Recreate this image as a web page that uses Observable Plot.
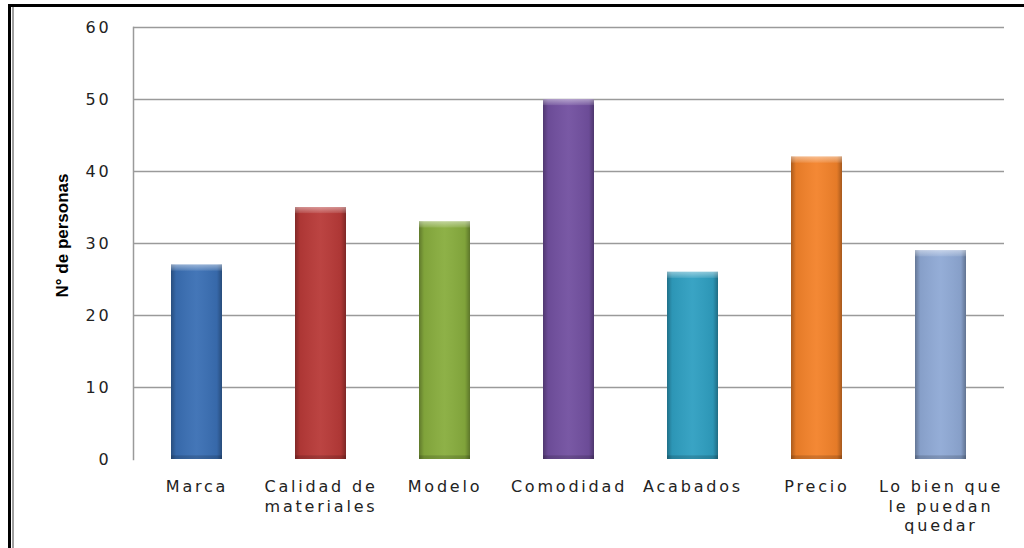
<!DOCTYPE html>
<html>
<head>
<meta charset="utf-8">
<script src="https://cdn.jsdelivr.net/npm/d3@7"></script>
<script src="https://cdn.jsdelivr.net/npm/@observablehq/plot@0.6"></script>
<style>
  html, body { margin: 0; padding: 0; background: #fff; }
  #wrap { position: relative; width: 1024px; height: 548px; overflow: hidden; }
  #frame { position: absolute; left: 8px; top: 4px; width: 1100px; height: 600px;
           border-top: 3px solid #000; border-left: 3px solid #000; box-sizing: border-box; }
  #frame2 { position: absolute; left: 12px; top: 7px; width: 2px; height: 600px; background: #a0a0a0; }
  svg { position: absolute; left: 0; top: 0; }
  svg text.spaced { letter-spacing: 2.8px; }
</style>
</head>
<body>
<div id="wrap"><div id="frame"></div><div id="frame2"></div></div>
<script>
const categories = ["Marca", "Calidad de materiales", "Modelo", "Comodidad", "Acabados", "Precio", "Lo bien que le puedan quedar"];
const labels = ["Marca", "Calidad de\nmateriales", "Modelo", "Comodidad", "Acabados", "Precio", "Lo bien que\nle puedan\nquedar"];
const values = [27, 35, 33, 50, 26, 42, 29];
const colors = ["#3a6fb4", "#b83a38", "#88ad3e", "#7250a0", "#2f9fc1", "#f3822a", "#8fa9d5"];
const yTicks = [0, 10, 20, 30, 40, 50, 60];

const data = categories.map((c, i) => ({category: c, label: labels[i], value: values[i], color: colors[i]}));

const chart = Plot.plot({
  width: 1024,
  height: 548,
  marginLeft: 133,
  marginRight: 20,
  marginTop: 27,
  marginBottom: 89,
  style: {background: "transparent", fontFamily: "DejaVu Sans, sans-serif"},
  x: {domain: categories, paddingInner: 0.59, paddingOuter: 0.295, axis: null},
  y: {domain: [0, 60], axis: null},
  marks: [
    Plot.ruleY(yTicks.filter(d => d > 0), {stroke: "#9a9a9a", strokeWidth: 1.5}),
    Plot.frame({anchor: "left", stroke: "#9a9a9a", strokeWidth: 1.5}),
    Plot.barY(data, {x: "category", y: "value", fill: "color"}),
    Plot.barY(data, {x: "category", y: "value", fill: "url(#shadeH)"}),
    Plot.barY(data, {x: "category", y1: d => d.value - 0.85, y2: "value", fill: "url(#shadeTop)"}),
    Plot.barY(data, {x: "category", y1: 0, y2: 0.5, fill: "#000", fillOpacity: 0.15}),
    Plot.axisY({ticks: yTicks, tickSize: 0, tickPadding: 22, fontSize: 16, fill: "#222", label: null, tickFormat: d => d, className: "ytk"}),
    Plot.text(data, {x: "category", text: "label", frameAnchor: "bottom", dy: 19, lineAnchor: "top", lineHeight: 1.22, fontSize: 16, fill: "#222", className: "xlab"}),
    Plot.text(["N° de personas"], {frameAnchor: "left", textAnchor: "middle", dx: -71, dy: -8, rotate: -90, fontSize: 17, fontWeight: "bold", fontFamily: "Liberation Sans Narrow, Arial Narrow, Liberation Sans, sans-serif", fill: "#000"})
  ]
});

const ns = "http://www.w3.org/2000/svg";
const defs = document.createElementNS(ns, "defs");
defs.innerHTML = `
  <linearGradient id="shadeH" x1="0" x2="1" y1="0" y2="0">
    <stop offset="0" stop-color="#000" stop-opacity="0.3"/>
    <stop offset="0.1" stop-color="#000" stop-opacity="0.06"/>
    <stop offset="0.5" stop-color="#fff" stop-opacity="0.05"/>
    <stop offset="0.9" stop-color="#000" stop-opacity="0.06"/>
    <stop offset="1" stop-color="#000" stop-opacity="0.32"/>
  </linearGradient>
  <linearGradient id="shadeTop" x1="0" x2="0" y1="0" y2="1">
    <stop offset="0" stop-color="#fff" stop-opacity="0.45"/>
    <stop offset="1" stop-color="#fff" stop-opacity="0.1"/>
  </linearGradient>`;
chart.insertBefore(defs, chart.firstChild);
chart.querySelectorAll(".ytk text, .xlab text").forEach(t => t.classList.add("spaced"));
chart.querySelectorAll(".ytk, .xlab").forEach(g => g.style.letterSpacing = "2.8px");
document.getElementById("wrap").appendChild(chart);
</script>
</body>
</html>
